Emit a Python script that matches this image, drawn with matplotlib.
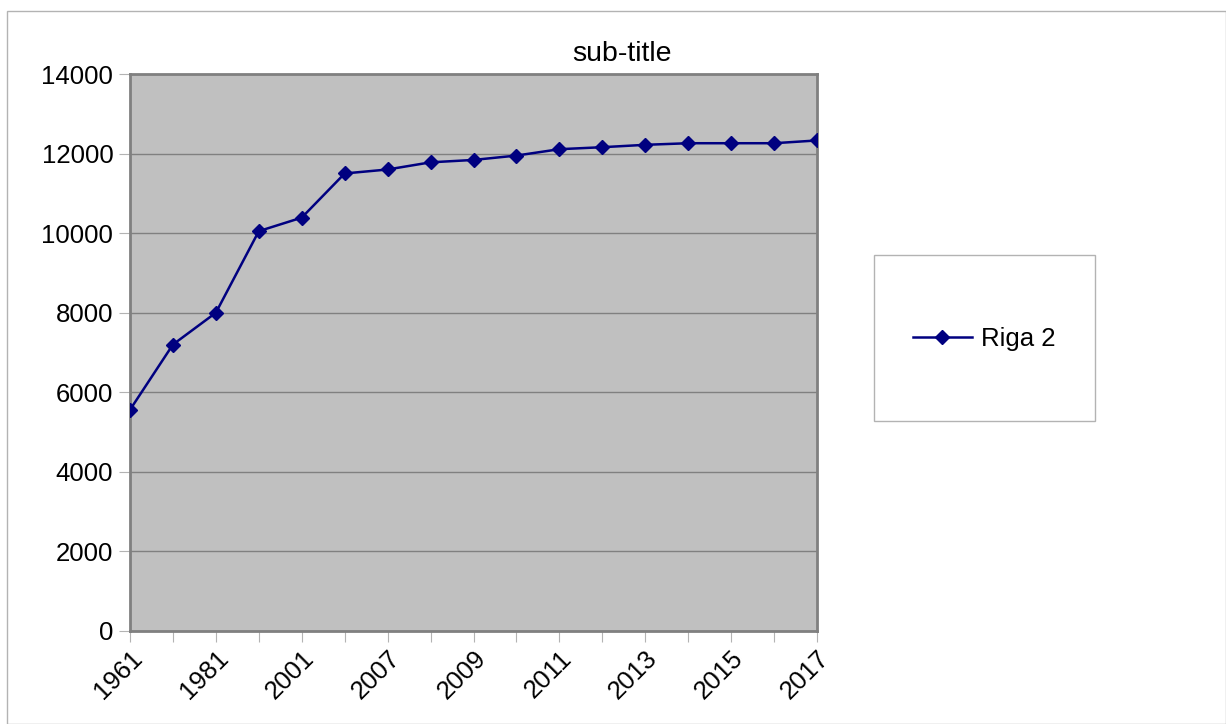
import matplotlib.pyplot as plt
from matplotlib.patches import Rectangle

years = ["1961", "1971", "1981", "1991", "2001", "2006", "2007", "2008", "2009",
         "2010", "2011", "2012", "2013", "2014", "2015", "2016", "2017"]
riga2 = [5560, 7200, 8000, 10050, 10390, 11500, 11600, 11780, 11840,
         11950, 12110, 12160, 12220, 12260, 12260, 12260, 12330]

plt.rcParams['font.family'] = ['Liberation Sans', 'DejaVu Sans']

fig = plt.figure(figsize=(12.26, 7.24), dpi=100)
ax = fig.add_axes([130/1226, 1-631/724, 687/1226, 557/724])

x = list(range(len(years)))
ax.plot(x, riga2, color='#000080', lw=1.8, marker='D', ms=7.5, label='Riga 2', zorder=3)

ax.set_facecolor('#c0c0c0')
ax.set_xlim(0, len(years) - 1)
ax.set_ylim(0, 14000)
ax.set_yticks(range(0, 14001, 2000))
ax.grid(axis='y', color='#808080', lw=1)
ax.set_axisbelow(True)

ax.set_xticks(x)
ax.set_xticklabels([y if i % 2 == 0 else '' for i, y in enumerate(years)],
                   rotation=45, ha='right', va='top', rotation_mode='anchor')
ax.tick_params(axis='both', labelsize=18.5, color='#b3b3b3', length=8, direction='out')
ax.tick_params(axis='x', pad=3)
ax.tick_params(axis='y', pad=4)
for s in ax.spines.values():
    s.set_color('#808080')
    s.set_linewidth(2)

fig.text(622/1226, 1-54/724, 'sub-title', ha='center', va='center', fontsize=20.5)

# outer border of the chart
fig.patches.append(Rectangle((7/1226, 0), 1-7/1226, 1-11/724, transform=fig.transFigure,
                             fill=False, edgecolor='#b3b3b3', lw=1))
# legend box
fig.patches.append(Rectangle((874/1226, 1-421/724), 221/1226, 166/724, transform=fig.transFigure,
                             fill=True, facecolor='white', edgecolor='#b3b3b3', lw=1))
h, l = ax.get_legend_handles_labels()
fig.legend(h, l, loc='center', bbox_to_anchor=(984/1226, 1-339/724), frameon=False,
           fontsize=18.5, handlelength=2.3, handletextpad=0.35)

fig.savefig('out.png', dpi=100)
